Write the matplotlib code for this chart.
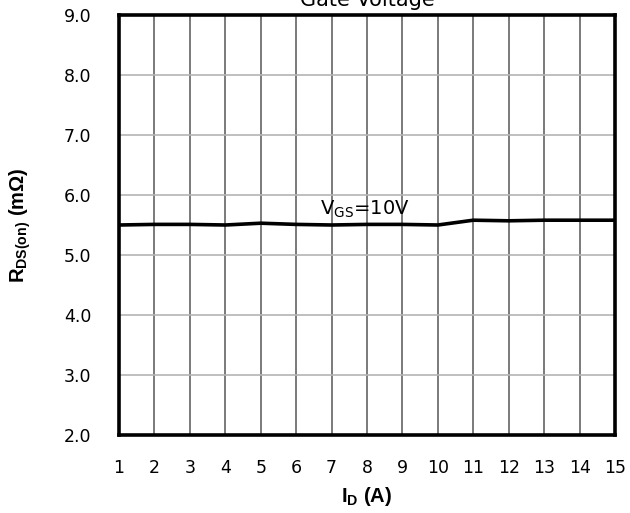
import matplotlib
matplotlib.use("Agg")
import matplotlib.pyplot as plt

# Data
current_a = [1, 2, 3, 4, 5, 6, 7, 8, 9, 10, 11, 12, 13, 14, 15]
rds_on_mohm = [5.50, 5.51, 5.51, 5.50, 5.53, 5.51, 5.50, 5.51, 5.51, 5.50, 5.58, 5.57, 5.58, 5.58, 5.58]
x_ticks = list(range(1, 16))
y_ticks = [2.0, 3.0, 4.0, 5.0, 6.0, 7.0, 8.0, 9.0]
title = "Gate Voltage"
series_label = r"V$_{\mathregular{GS}}$=10V"

plt.rcParams['font.family'] = ['DejaVu Sans']
fig = plt.figure(figsize=(6.3, 5.13), dpi=100)
ax = fig.add_axes([119/630, 1-435/513, (615-119)/630, (435-15)/513])

ax.plot(current_a, rds_on_mohm, color='black', lw=2.6, solid_capstyle='butt')
ax.set_xlim(1, 15)
ax.set_ylim(2.0, 9.0)
ax.set_xticks(x_ticks)
ax.set_xticklabels([str(t) for t in x_ticks])
ax.set_yticks(y_ticks)
ax.set_yticklabels([f"{t:.1f}" for t in y_ticks])
ax.xaxis.grid(True, color='#7a7a7a', lw=1.4)
ax.yaxis.grid(True, color='#b4b4b4', lw=1.2)
ax.set_axisbelow(True)
for s in ax.spines.values():
    s.set_linewidth(2.6)
    s.set_color('black')
ax.tick_params(length=0, labelsize=12.5)
ax.tick_params(axis='x', pad=17)
ax.tick_params(axis='y', pad=20)

ax.text(6.67, 5.67, series_label, fontsize=14, ha='left', va='baseline')

ax.set_xlabel(r"I$_{\mathregular{D}}$ (A)", fontsize=14.5, fontweight='bold',
              family='Liberation Sans', va='center', ha='center')
ax.set_ylabel(r"R$_{\mathregular{DS(on)}}$ (m$\mathregular{\Omega}$)", fontsize=14.5,
              fontweight='bold', family='Liberation Sans', va='center', ha='center')
ax.xaxis.set_label_coords(0.5, (435-497)/420)
ax.yaxis.set_label_coords((20-119)/496, 0.5)
fig.text(367/630, 1-6/513, title, fontsize=15, ha='center', va='baseline')

fig.savefig("out.png", dpi=100, facecolor='white')
